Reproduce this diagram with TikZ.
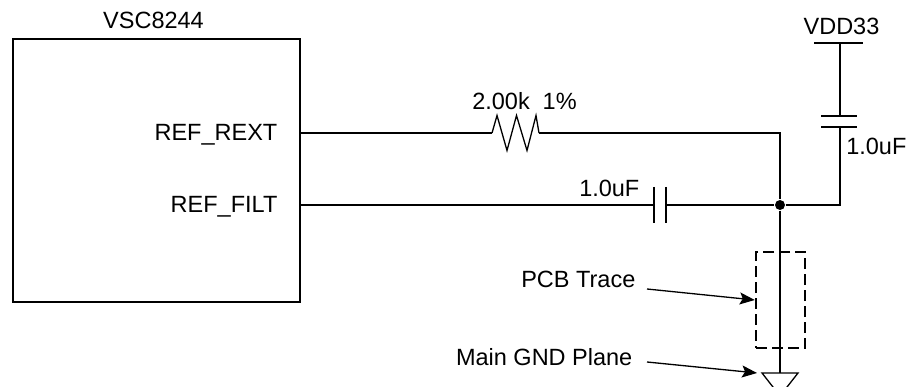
\documentclass[tikz,border=0pt]{standalone}
\usepackage{fontspec}
\setmainfont{Liberation Sans}
\usetikzlibrary{arrows.meta,positioning}

\begin{document}
\begin{tikzpicture}[x=1pt,y=-1pt,line width=1.3pt,
        lbl/.style={inner sep=0pt,font=\fontsize{23.5}{28}\selectfont},
        plate/.style={line width=2pt},
        ptr/.style={-{Stealth[length=15pt,width=12pt,inset=3pt]}},
        trace/.style={draw,line width=2.5pt,dash pattern=on 11pt off 5pt,inner sep=0pt}]
    \useasboundingbox (0,0) rectangle (912,387);

    % chip and its pins
    \node [draw,line width=2pt,anchor=north west,inner sep=0pt,
        minimum width=287.5pt,minimum height=263pt] (chip) at (11.5,38) {};
    \node [lbl,anchor=base] (title) at (153.5,28.5) {VSC8244};
    \node [lbl,anchor=base east] (rextlbl) at (278,141) {REF\_REXT};
    \node [lbl,anchor=base east] (filtlbl) at (278,213) {REF\_FILT};
    \coordinate (rext) at (299,133);
    \coordinate (filt) at (299,205);

    % resistor
    \coordinate (resL) at (492,133);
    \coordinate (resR) at (539,133);
    \draw (resL) -- ++(5,-17.5) -- ++(10,35) -- ++(9.5,-35) -- ++(10.5,35)
        -- ++(9,-35) -- (resR);
    \node [lbl,anchor=base] (resval) at (524.5,110) {2.00k\hspace{0.55em}1\%};

    % filter capacitor
    \coordinate (cfL) at (654,205);
    \coordinate (cfR) at (666,205);
    \draw [plate] (654,187) -- (654,223);
    \draw [plate] (666,187) -- (666,223);
    \node [lbl,anchor=base east] (cfval) at (640,197) {1.0uF};

    % supply capacitor
    \coordinate (cvT) at (840,116);
    \coordinate (cvB) at (840,127.5);
    \draw [plate] (821,116) -- (857,116);
    \draw [plate] (821,127.5) -- (857,127.5);
    \node [lbl,anchor=base east] (cvval) at (907,155) {1.0uF};
    \coordinate (vdd) at (840,43);
    \draw (814,43) -- (863,43);
    \node [lbl,anchor=base] (vddlbl) at (841.5,35) {VDD33};

    % junction, trace and ground
    \node [circle,fill,inner sep=0pt,minimum size=10pt] (junc) at (780,205) {};
    \node [trace,minimum width=49pt,minimum height=96pt] (pcb) at (780.5,300) {};
    \coordinate (gnd) at (780,373);
    \draw (gnd) ++(-18,0) -- ++(36,0) -- ++(-18,23) -- cycle;

    \draw (rext) -- (resL);
    \draw (resR) -| (junc);
    \draw (filt) -- (cfL);
    \draw (cfR) -- (junc);
    \draw (junc) -| (cvB);
    \draw (cvT) -- (vdd);
    \draw (junc) -- (gnd);

    % pointers
    \node [lbl,anchor=base east] (pcblbl) at (636,287) {PCB Trace};
    \node [lbl,anchor=base east] (gndlbl) at (633,365) {Main GND Plane};
    \draw [ptr] ([xshift=11pt,yshift=-2pt]pcblbl.base east) -- (pcb.west);
    \draw [ptr] ([xshift=14pt,yshift=3pt]gndlbl.base east) -- ([xshift=-23pt]gnd);
\end{tikzpicture}
\end{document}
